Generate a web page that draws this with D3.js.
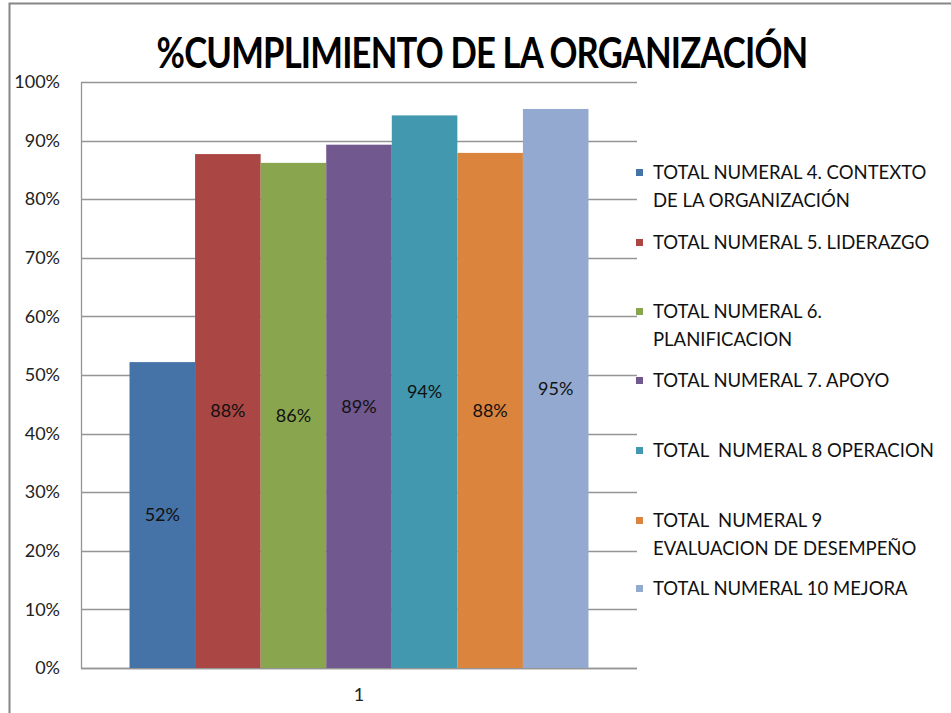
<!DOCTYPE html>
<html><head><meta charset="utf-8">
<script src="https://cdn.jsdelivr.net/npm/d3@7"></script>
<style>body{margin:0;background:#fff}svg{display:block}</style>
</head><body>
<svg id="c" width="951" height="713"></svg>
<script>
const title = "%CUMPLIMIENTO DE LA ORGANIZACIÓN";
const categories = ["1"];
const seriesNames = [
  ["TOTAL NUMERAL 4. CONTEXTO", "DE LA ORGANIZACIÓN"],
  ["TOTAL NUMERAL 5. LIDERAZGO"],
  ["TOTAL NUMERAL 6.", "PLANIFICACION"],
  ["TOTAL NUMERAL 7. APOYO"],
  ["TOTAL  NUMERAL 8 OPERACION"],
  ["TOTAL  NUMERAL 9", "EVALUACION DE DESEMPEÑO"],
  ["TOTAL NUMERAL 10 MEJORA"]
];
const seriesValues = [0.522, 0.877, 0.862, 0.893, 0.943, 0.879, 0.954];
const seriesColors = ["#4572A7", "#AA4643", "#89A54E", "#71588F", "#4198AF", "#DB843D", "#93A9CF"];
const yTicks = [0, 0.1, 0.2, 0.3, 0.4, 0.5, 0.6, 0.7, 0.8, 0.9, 1.0];

const svg = d3.select("#c");
const font = "Lato, 'Open Sans', sans-serif";
const plot = {left: 81, right: 637, top: 82, bottom: 668};

// outer border
svg.append("rect").attr("x", 9.5).attr("y", 3.5).attr("width", 1000).attr("height", 800)
  .attr("fill", "none").attr("stroke", "#868686").attr("stroke-width", 2);

const y = d3.scaleLinear().domain([0, 1]).range([plot.bottom, plot.top]);
const x0 = d3.scaleBand().domain(categories).range([plot.left, plot.right]).paddingInner(0).paddingOuter(0.1057);
const x1 = d3.scaleBand().domain(d3.range(seriesValues.length)).range([0, x0.bandwidth()]);

// gridlines
svg.append("g").selectAll("line").data(yTicks).join("line")
  .attr("x1", plot.left).attr("x2", plot.right)
  .attr("y1", d => Math.round(y(d)) + 0.5).attr("y2", d => Math.round(y(d)) + 0.5)
  .attr("stroke", "#959595").attr("stroke-width", 1.3);

// y axis
const yAxis = d3.axisLeft(y).tickValues(yTicks).tickFormat(d3.format(".0%")).tickSize(0).tickPadding(21);
const ga = svg.append("g").attr("transform", `translate(${plot.left},0)`).call(yAxis);
ga.select(".domain").attr("stroke", "#959595").attr("stroke-width", 1.3);
ga.selectAll("text").attr("font-family", font).attr("font-size", 18).attr("fill", "#222");

// x axis
const xAxis = d3.axisBottom(x0).tickSize(0).tickPadding(20);
const gx = svg.append("g").attr("transform", `translate(0,${plot.bottom})`).call(xAxis);
gx.select(".domain").attr("stroke", "#959595").attr("stroke-width", 1.3)
  .attr("d", `M${plot.left},0.5H${plot.right}`);
gx.selectAll("text").attr("font-family", font).attr("font-size", 18).attr("fill", "#222");

// bars
const bars = svg.append("g").attr("transform", `translate(${x0(categories[0])},0)`);
bars.selectAll("rect").data(seriesValues).join("rect")
  .attr("x", (d, i) => x1(i)).attr("width", x1.bandwidth())
  .attr("y", d => y(d)).attr("height", d => y(0) - y(d))
  .attr("fill", (d, i) => seriesColors[i]);

bars.selectAll("text").data(seriesValues).join("text")
  .attr("x", (d, i) => x1(i) + x1.bandwidth() / 2)
  .attr("y", d => (y(d) + y(0)) / 2)
  .attr("dy", "0.35em").attr("text-anchor", "middle")
  .attr("font-family", font).attr("font-size", 18).attr("fill", "#111")
  .text(d => d3.format(".0%")(d));

// title: Lato bold, slightly tightened and condensed to the reference width
const tg = svg.append("g");
const tt = tg.append("text").attr("x", 0).attr("y", 0).attr("text-anchor", "middle")
  .attr("font-family", font).attr("font-weight", "bold").attr("font-size", 42)
  .attr("letter-spacing", -1).attr("fill", "#000").text(title);
const bb = tt.node().getBBox();
const sx = bb.width > 0 ? Math.min(1, 651 / bb.width) : 1;
tg.attr("transform", `translate(${482 - (bb.x + bb.width / 2) * sx},68) scale(${sx.toFixed(4)},1)`);

// legend
const legendY = [173, 243, 312, 381, 451, 521, 589];
const lg = svg.append("g");
seriesNames.forEach((lines, i) => {
  const g = lg.append("g").attr("transform", `translate(636,${legendY[i]})`);
  g.append("rect").attr("x", 0).attr("y", -4).attr("width", 7).attr("height", 7).attr("fill", seriesColors[i]);
  lines.forEach((t, j) => {
    g.append("text").attr("x", 17).attr("y", j * 28).attr("dy", "0.35em")
      .attr("font-family", font).attr("font-size", 18.5).attr("fill", "#111")
      .attr("xml:space", "preserve").style("white-space", "pre").text(t);
  });
});
</script>
</body></html>
